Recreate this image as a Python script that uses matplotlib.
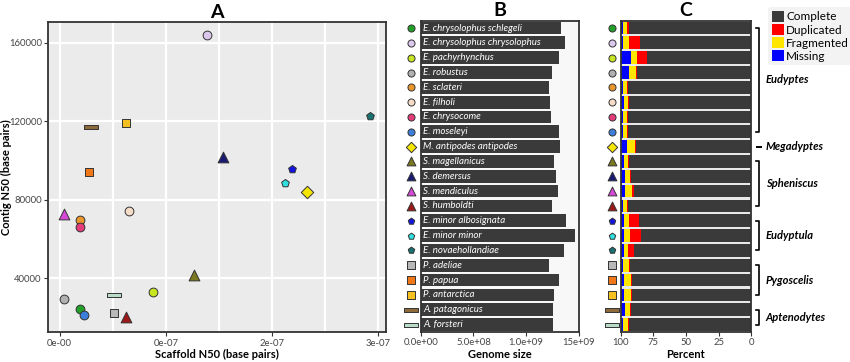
import matplotlib
matplotlib.use("Agg")
import matplotlib.pyplot as plt
import matplotlib.transforms as mtransforms
from matplotlib.patches import Patch
import numpy as np

plt.rcParams['font.family'] = ['Lato', 'Noto Sans', 'DejaVu Sans']

species = ["E. chrysolophus schlegeli", "E. chrysolophus chrysolophus", "E. pachyrhynchus",
           "E. robustus", "E. sclateri", "E. filholi", "E. chrysocome", "E. moseleyi",
           "M. antipodes antipodes", "S. magellanicus", "S. demersus", "S. mendiculus",
           "S. humboldti", "E. minor albosignata", "E. minor minor", "E. novaehollandiae",
           "P. adeliae", "P. papua", "P. antarctica", "A. patagonicus", "A. forsteri"]

scaffold_n50 = [1.89e6, 1.384e7, 8.74e6, 0.38e6, 1.92e6, 6.48e6, 1.95e6, 2.26e6,
                2.327e7, 1.267e7, 1.535e7, 0.41e6, 6.23e6, 2.189e7, 2.116e7, 2.925e7,
                5.09e6, 2.77e6, 6.23e6, 2.90e6, 5.12e6]
contig_n50 = [24200, 163700, 33000, 29600, 69400, 74400, 66000, 21000,
              83900, 41500, 101600, 72700, 20200, 95800, 88500, 122700,
              22100, 94300, 119000, 116900, 31500]
genome_size = [1.328e9, 1.372e9, 1.315e9, 1.249e9, 1.214e9, 1.230e9, 1.233e9, 1.315e9,
               1.325e9, 1.265e9, 1.281e9, 1.300e9, 1.243e9, 1.376e9, 1.467e9, 1.360e9,
               1.217e9, 1.315e9, 1.268e9, 1.259e9, 1.259e9]
missing = [1.8, 2.0, 7.7, 6.4, 2.0, 2.3, 2.0, 2.0, 4.6, 2.3, 3.1, 3.6, 2.0,
           2.6, 2.8, 2.3, 2.0, 2.6, 2.3, 3.1, 2.0]
fragmented = [3.3, 4.6, 4.6, 5.1, 3.1, 3.3, 3.3, 3.3, 6.6, 3.3, 4.1, 5.1, 3.3,
              4.1, 4.3, 3.8, 4.6, 5.1, 5.4, 4.1, 3.6]
duplicated = [1.5, 8.2, 7.7, 0.8, 0.8, 0.8, 0.8, 0.8, 1.0, 0.8, 1.0, 1.3, 0.8,
              7.7, 8.9, 4.1, 0.5, 0.8, 0.8, 0.8, 0.8]

genera = ["Eudyptes", "Megadyptes", "Spheniscus", "Eudyptula", "Pygoscelis", "Aptenodytes"]
genus_rows = [(0, 7), (8, 8), (9, 12), (13, 15), (16, 18), (19, 20)]

x_ticks = [0, 1e7, 2e7, 3e7]
x_tick_labels = ["0e-00", "0e-07", "2e-07", "3e-07"]
y_ticks = [40000, 80000, 120000, 160000]
g_ticks = [0, 5e8, 1e9, 1.5e9]
g_tick_labels = ["0.0e+00", "5.0e+08", "1.0e+09", "15e+09"]

colors = ["#22a02a", "#dcc8ec", "#c8e620", "#b0b0b0", "#eb962c", "#f5dcc6", "#e43c78",
          "#3d7ed8", "#f5e600", "#7a7820", "#1a1a72", "#d848d8", "#9c1818", "#1414e0",
          "#30e0e0", "#187272", "#b8b8b8", "#f07818", "#f5c020", "#8c6a3a", "#b8dcc8"]
bar_marker = [(-1, -0.27), (1, -0.27), (1, 0.27), (-1, 0.27), (-1, -0.27)]
markers = ["o"] * 8 + ["D"] + ["^"] * 4 + ["p"] * 3 + ["s"] * 3 + [bar_marker] * 2
sizes_a = [40] * 8 + [40] + [60] * 4 + [34] * 3 + [34] * 3 + [110] * 2
sizes_s = [26] * 8 + [28] + [40] * 4 + [24] * 3 + [26] * 3 + [90] * 2

edge = "#333333"
tick_col = "#444444"

fig = plt.figure(figsize=(8.5, 3.62), dpi=100)
axA = fig.add_axes([0.0565, 0.082, 0.3975, 0.858])
axB = fig.add_axes([0.495, 0.083, 0.186, 0.860])
axC = fig.add_axes([0.730, 0.083, 0.154, 0.860])

# ---- panel A
axA.set_facecolor("#ebebeb")
for i in range(len(species)):
    axA.scatter(scaffold_n50[i], contig_n50[i], marker=markers[i], s=sizes_a[i],
                c=colors[i], edgecolors=edge, linewidths=0.7, zorder=3)
axA.set_xlim(-0.11e7, 3.07e7)
axA.set_ylim(12400, 170700)
axA.set_xticks(x_ticks)
axA.set_xticklabels(x_tick_labels)
axA.set_xticks([0.5e7, 1.5e7, 2.5e7], minor=True)
axA.set_yticks(y_ticks)
axA.grid(True, which="both", axis="x", color="white", lw=1.6)
axA.grid(True, which="major", axis="y", color="white", lw=1.6)
axA.tick_params(which="minor", length=0)
axA.set_axisbelow(True)
axA.set_xlabel("Scaffold N50 (base pairs)", fontweight="bold", fontsize=8, labelpad=1)
axA.set_ylabel("Contig N50 (base pairs)", fontweight="bold", fontsize=8)
axA.yaxis.set_label_coords(-0.108, 0.5)
axA.set_title("A", fontweight="bold", fontsize=14, pad=3)

# ---- panel B
rows = np.arange(len(species))
axB.set_facecolor("#f8f8f8")
axB.barh(rows, genome_size, height=0.86, color="#3a3a3a", zorder=2)
for i, name in enumerate(species):
    axB.text(0.025e9, i, name, color="white", style="italic", fontsize=7,
             va="center", ha="left", zorder=3)
axB.set_xlim(0, 1.5e9)
axB.set_ylim(20.5, -0.5)
axB.set_yticks([])
axB.set_xticks(g_ticks)
axB.set_xticklabels(g_tick_labels)
axB.set_xlabel("Genome size", fontweight="bold", fontsize=8, labelpad=1)
axB.set_title("B", fontweight="bold", fontsize=14, pad=3)

# ---- panel C
complete = [100 - m - f - d for m, f, d in zip(missing, fragmented, duplicated)]
axC.set_facecolor("#e8e8e8")
left = np.zeros(len(species))
for vals, col in [(complete, "#3a3a3a"), (duplicated, "#ff0000"),
                  (fragmented, "#ffe600"), (missing, "#0000ff")]:
    axC.barh(rows, vals, left=left, height=0.86, color=col, zorder=2)
    left = left + np.array(vals)
axC.set_xlim(100, 0)
axC.set_ylim(20.5, -0.5)
axC.set_yticks([])
axC.set_xticks([100, 75, 50, 25, 0])
axC.set_xlabel("Percent", fontweight="bold", fontsize=8, labelpad=1)
axC.set_title("C", fontweight="bold", fontsize=14, pad=3)

# side markers for B and C
for ax in (axB, axC):
    trans = mtransforms.blended_transform_factory(ax.transAxes, ax.transData)
    for i in range(len(species)):
        ax.scatter(-0.064, i, marker=markers[i], s=sizes_s[i], c=colors[i],
                   edgecolors=edge, linewidths=0.7, transform=trans, clip_on=False, zorder=4)

# genus brackets
transC = mtransforms.blended_transform_factory(axC.transAxes, axC.transData)
bx = 1.056
for g, (r0, r1) in zip(genera, genus_rows):
    if r0 == r1:
        axC.plot([bx - 0.012, bx + 0.018], [r0, r0], color="black", lw=1.4,
                 transform=transC, clip_on=False)
    else:
        axC.plot([bx - 0.018, bx, bx, bx - 0.018], [r0, r0, r1, r1], color="black",
                 lw=1.2, transform=transC, clip_on=False)
    axC.text(bx + 0.055, (r0 + r1) / 2, g, style="italic", fontweight="bold",
             fontsize=8, va="center", ha="left", transform=transC)

for ax in (axA, axB, axC):
    for sp in ax.spines.values():
        sp.set_color("#333333")
        sp.set_linewidth(1.3)
    ax.tick_params(axis="both", labelsize=6.8, colors=tick_col, length=3, width=0.8, pad=1.5)
    ax.tick_params(axis="both", which="both", color="#333333")

handles = [Patch(facecolor="#3a3a3a", label="Complete"),
           Patch(facecolor="#ff0000", label="Duplicated"),
           Patch(facecolor="#ffe600", label="Fragmented"),
           Patch(facecolor="#0000ff", label="Missing")]
leg = fig.legend(handles=handles, loc="upper left", bbox_to_anchor=(0.904, 0.98),
                 fontsize=8.5, frameon=True, handlelength=1.0, handleheight=1.1,
                 handletextpad=0.2, labelspacing=0.12, borderpad=0.3, borderaxespad=0)
leg.get_frame().set_facecolor("#f0f0f0")
leg.get_frame().set_edgecolor("none")

fig.savefig("out.png", dpi=100)
